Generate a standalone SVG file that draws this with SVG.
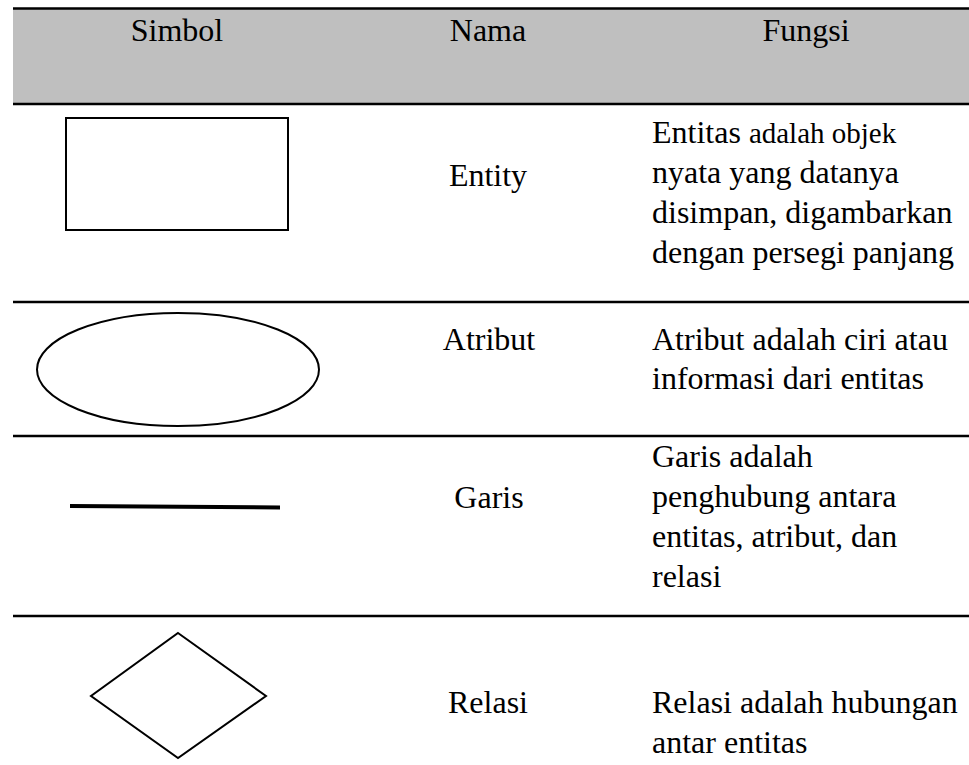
<svg xmlns="http://www.w3.org/2000/svg" width="969" height="765" viewBox="0 0 969 765">
<style>
  text { font-family: "Liberation Serif", "Times New Roman", serif; font-size: 32px; fill: #000; }
  .c { text-anchor: middle; }
  .rule { stroke: #000; stroke-width: 2.5; }
  .shape { fill: #fff; stroke: #000; stroke-width: 2; }
</style>
<rect width="969" height="765" fill="#fff"/>
<g id="header">
  <rect x="13" y="9" width="956" height="95" fill="#bfbfbf"/>
  <text class="c" x="177" y="41">Simbol</text>
  <text class="c" x="488" y="41">Nama</text>
  <text class="c" x="806" y="41">Fungsi</text>
</g>
<g id="rules">
  <line class="rule" x1="13" y1="8.5" x2="969" y2="8.5" stroke-width="3"/>
  <line class="rule" x1="13" y1="104" x2="969" y2="104" stroke-width="3"/>
  <line class="rule" x1="13" y1="302" x2="969" y2="302"/>
  <line class="rule" x1="13" y1="436" x2="969" y2="436"/>
  <line class="rule" x1="13" y1="616" x2="969" y2="616"/>
</g>
<g id="entity">
  <rect class="shape" x="66" y="118" width="222" height="112"/>
  <text class="c" x="488" y="186">Entity</text>
  <text x="652" y="143">Entitas <tspan font-size="29">adalah objek</tspan></text>
  <text x="652" y="183">nyata yang datanya</text>
  <text x="652" y="223">disimpan, digambarkan</text>
  <text x="652" y="263">dengan persegi panjang</text>
</g>
<g id="atribut">
  <ellipse class="shape" cx="178" cy="369.5" rx="141" ry="56.5"/>
  <text class="c" x="489" y="350">Atribut</text>
  <text x="652" y="350">Atribut adalah ciri atau</text>
  <text x="652" y="389">informasi dari entitas</text>
</g>
<g id="garis">
  <line x1="70" y1="506" x2="280" y2="507.5" stroke="#000" stroke-width="4"/>
  <text class="c" x="489" y="508">Garis</text>
  <text x="652" y="467">Garis adalah</text>
  <text x="652" y="507">penghubung antara</text>
  <text x="652" y="547">entitas, atribut, dan</text>
  <text x="652" y="587">relasi</text>
</g>
<g id="relasi">
  <polygon class="shape" points="178,633 266,696 178,758 91,696"/>
  <text class="c" x="488" y="713">Relasi</text>
  <text x="652" y="713">Relasi adalah hubungan</text>
  <text x="652" y="753">antar entitas</text>
</g>
<g id="connectors"></g>
</svg>
